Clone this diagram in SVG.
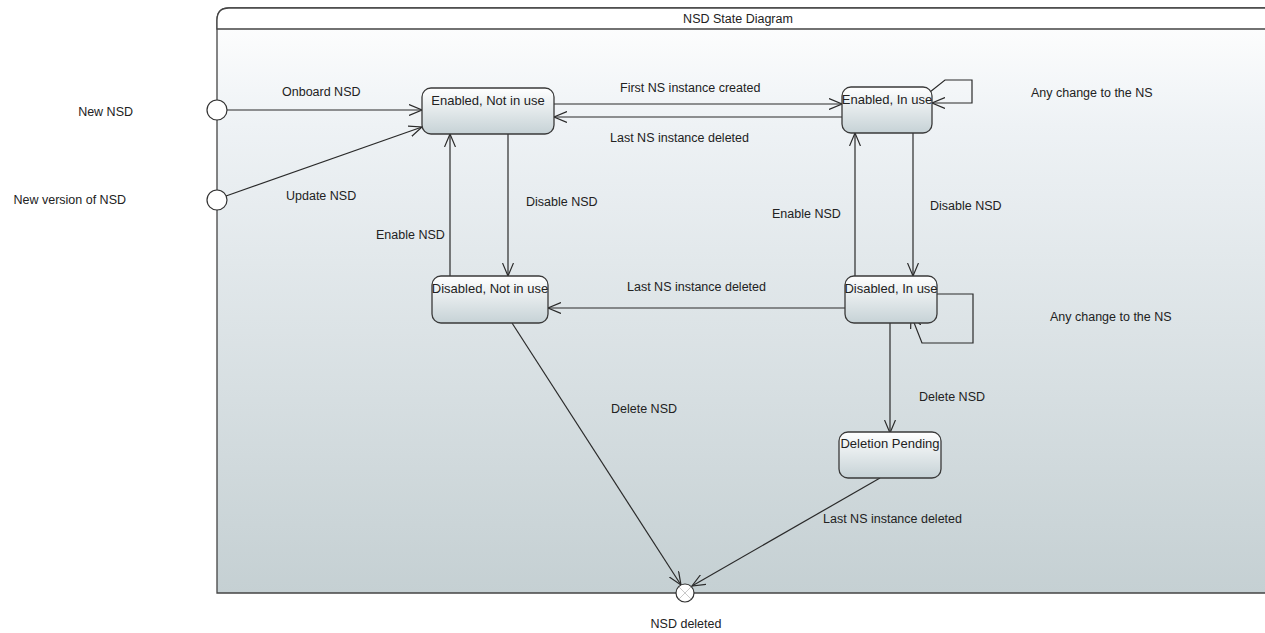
<svg xmlns="http://www.w3.org/2000/svg" width="1265" height="633" viewBox="0 0 1265 633">
<style>
text{font-family:"Liberation Sans","DejaVu Sans",sans-serif;font-size:12.5px;fill:#222}
.n{font-size:13px}
.st{fill:url(#ng);stroke:#3a3a3a;stroke-width:1.3}
.c{fill:none;stroke:#2a2a2a;stroke-width:1.2}
.pt{fill:#fff;stroke:#333;stroke-width:1.2}
</style>
<defs>
<linearGradient id="fg" x1="0" y1="0" x2="0" y2="1">
<stop offset="0" stop-color="#ffffff"/>
<stop offset="0.2" stop-color="#eef2f5"/>
<stop offset="1" stop-color="#c5d0d3"/>
</linearGradient>
<linearGradient id="ng" x1="0" y1="0" x2="0" y2="1">
<stop offset="0" stop-color="#ffffff"/>
<stop offset="1" stop-color="#c6d2d6"/>
</linearGradient>
<marker id="ar" markerWidth="14" markerHeight="12" refX="13" refY="6" orient="auto" markerUnits="userSpaceOnUse">
<path d="M0,0.5 L13,6 L0,11.5" fill="none" stroke="#2a2a2a" stroke-width="1.2"/>
</marker>
</defs>
<rect width="1265" height="633" fill="#ffffff"/>
<g id="frame">
<path d="M217,593 L217,20 Q217,8 229,8 L1280,8 L1280,593 Z" fill="url(#fg)" stroke="#444" stroke-width="1.3"/>
<path d="M217,29 L1280,29 L1280,8 L229,8 Q217,8 217,20 Z" fill="#ffffff" stroke="#444" stroke-width="1.3"/>
<text x="738" y="23" text-anchor="middle" font-size="11.5">NSD State Diagram</text>
</g>
<g id="connectors">
<line class="c" x1="227" y1="110" x2="422" y2="110" marker-end="url(#ar)"/>
<line class="c" x1="226" y1="196" x2="422" y2="127" marker-end="url(#ar)"/>
<line class="c" x1="554" y1="104" x2="842" y2="104" marker-end="url(#ar)"/>
<line class="c" x1="842" y1="117" x2="554" y2="117" marker-end="url(#ar)"/>
<polyline class="c" points="930,92 945,80 972,80 972,103 932,103" marker-end="url(#ar)"/>
<line class="c" x1="450" y1="276" x2="450" y2="134" marker-end="url(#ar)"/>
<line class="c" x1="508" y1="134" x2="508" y2="276" marker-end="url(#ar)"/>
<line class="c" x1="855" y1="276" x2="855" y2="133" marker-end="url(#ar)"/>
<line class="c" x1="913" y1="133" x2="913" y2="276" marker-end="url(#ar)"/>
<line class="c" x1="845" y1="308" x2="548" y2="308" marker-end="url(#ar)"/>
<polyline class="c" points="937,294 973,294 973,343 922,343 911,315" marker-end="url(#ar)"/>
<line class="c" x1="890" y1="323" x2="890" y2="433" marker-end="url(#ar)"/>
<line class="c" x1="512" y1="323" x2="681" y2="585" marker-end="url(#ar)"/>
<line class="c" x1="880" y1="478" x2="692" y2="586" marker-end="url(#ar)"/>
<text x="282" y="96">Onboard NSD</text>
<text x="286" y="200">Update NSD</text>
<text x="620" y="92">First NS instance created</text>
<text x="610" y="142">Last  NS instance deleted</text>
<text x="1031" y="97">Any change to the NS</text>
<text x="376" y="239">Enable NSD</text>
<text x="526" y="206">Disable NSD</text>
<text x="772" y="218">Enable NSD</text>
<text x="930" y="210">Disable NSD</text>
<text x="627" y="291">Last NS instance deleted</text>
<text x="1050" y="321">Any change to the NS</text>
<text x="919" y="401">Delete NSD</text>
<text x="611" y="413">Delete NSD</text>
<text x="823" y="523">Last NS instance deleted</text>
</g>
<g id="new-nsd">
<circle class="pt" cx="217" cy="110" r="10"/>
<text x="133" y="116" text-anchor="end">New NSD</text>
</g>
<g id="new-version">
<circle class="pt" cx="217" cy="200" r="10"/>
<text x="126" y="204" text-anchor="end">New version of NSD</text>
</g>
<g id="enabled-not-in-use">
<rect class="st" x="422" y="88" width="132" height="46" rx="9"/>
<text class="n" x="488" y="105" text-anchor="middle">Enabled, Not in use</text>
</g>
<g id="enabled-in-use">
<rect class="st" x="842" y="87" width="90" height="46" rx="9"/>
<text class="n" x="887" y="104" text-anchor="middle">Enabled, In use</text>
</g>
<g id="disabled-not-in-use">
<rect class="st" x="432" y="276" width="116" height="47" rx="9"/>
<text class="n" x="490" y="293" text-anchor="middle">Disabled, Not in use</text>
</g>
<g id="disabled-in-use">
<rect class="st" x="845" y="276" width="92" height="47" rx="9"/>
<text class="n" x="891" y="293" text-anchor="middle">Disabled, In use</text>
</g>
<g id="deletion-pending">
<rect class="st" x="839" y="432" width="102" height="46" rx="9"/>
<text class="n" x="890" y="448" text-anchor="middle">Deletion Pending</text>
</g>
<g id="nsd-deleted">
<circle class="pt" cx="685" cy="593" r="9"/>
<path d="M679,587 L691,599 M691,587 L679,599" stroke="#bbb" stroke-width="0.8"/>
<text x="686" y="628" text-anchor="middle">NSD deleted</text>
</g>
</svg>
